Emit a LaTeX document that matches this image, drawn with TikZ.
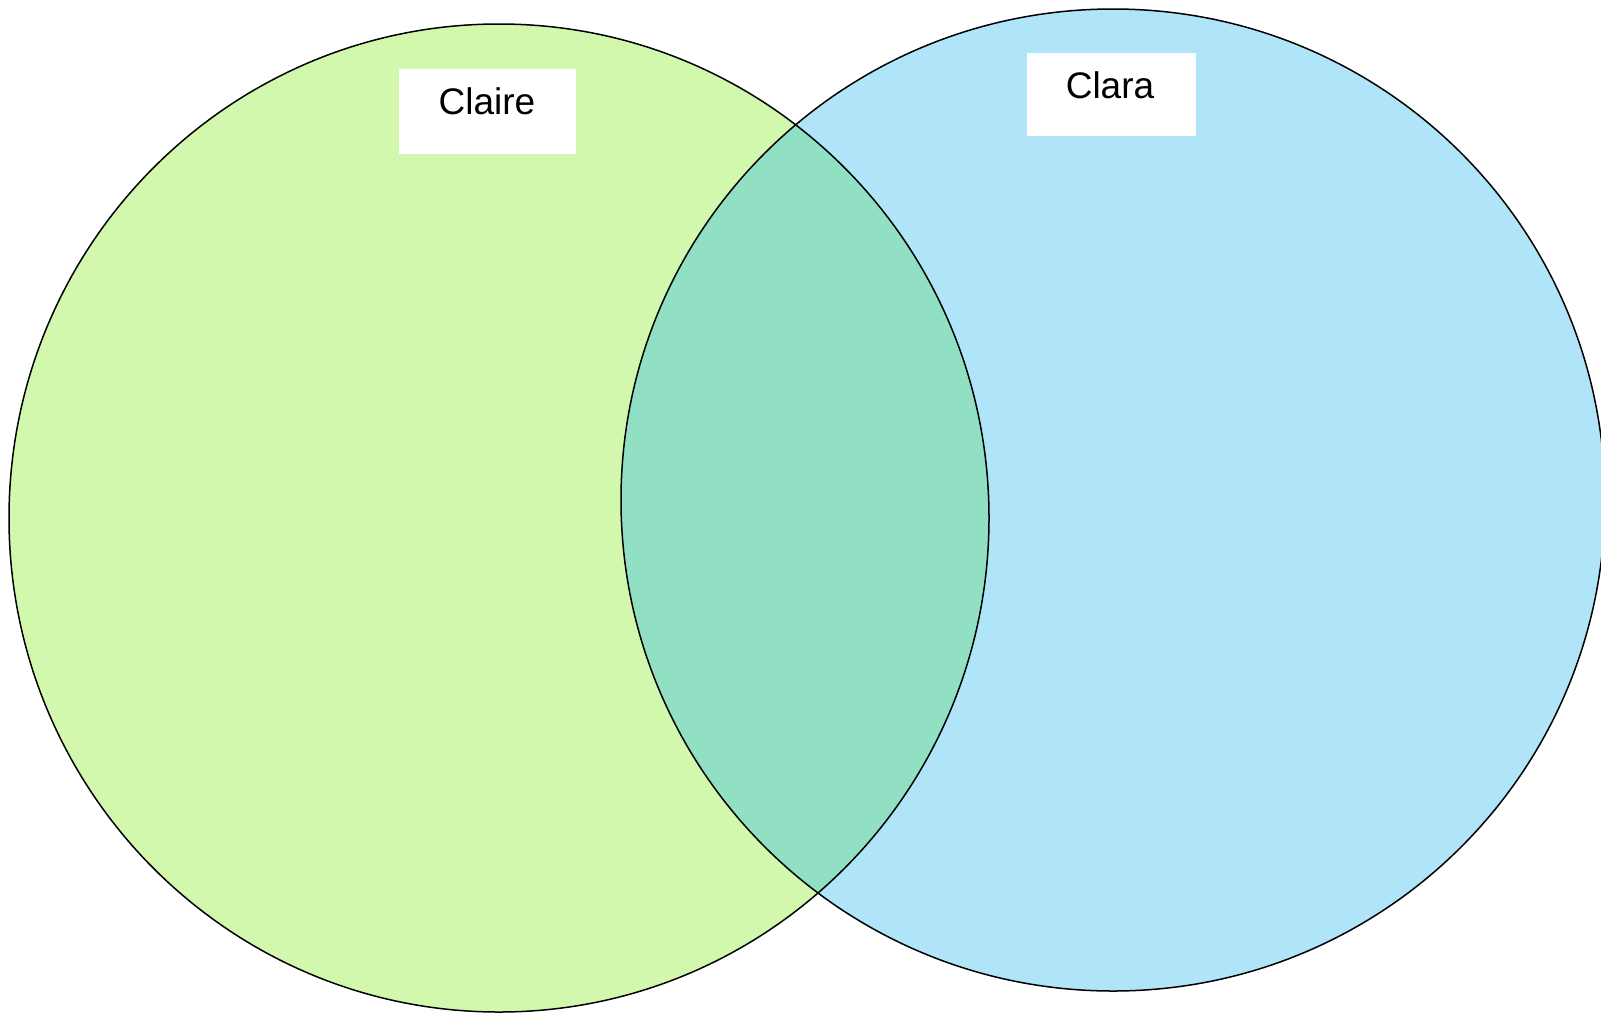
\documentclass[tikz,border=0pt]{standalone}
\usepackage{fontspec}
\setmainfont{Liberation Sans}
\definecolor{claireFill}{HTML}{D2F8AE}
\definecolor{claraFill}{HTML}{B0E5F9}
\definecolor{bothFill}{HTML}{91E0C3}
\begin{document}
\begin{tikzpicture}[x=1pt,y=-1pt,
  setline/.style={draw=black,line width=1.5pt},
  namebox/.style={fill=white,inner sep=0pt},
  nametext/.style={inner sep=0pt,font=\fontsize{37}{42}\selectfont}]
\useasboundingbox (0,0) rectangle (1601,1013);
% the two sets
\fill[claireFill] (499,518) ellipse [x radius=490, y radius=494];
\fill[claraFill] (1113,500) ellipse [x radius=492, y radius=491];
% shared part
\begin{scope}
  \clip (499,518) ellipse [x radius=490, y radius=494];
  \fill[bothFill] (1113,500) ellipse [x radius=492, y radius=491];
\end{scope}
% outlines
\draw[setline] (499,518) ellipse [x radius=490, y radius=494];
\draw[setline] (1113,500) ellipse [x radius=492, y radius=491];
% set names on white tags
\node[namebox,minimum width=177pt,minimum height=85pt] (claireTag) at (487.5,111.5) {};
\node[nametext] (claire) at (487,101) {Claire};
\node[namebox,minimum width=169pt,minimum height=83pt] (claraTag) at (1111.5,94.5) {};
\node[nametext] (clara) at (1110,85) {Clara};
\end{tikzpicture}
\end{document}
